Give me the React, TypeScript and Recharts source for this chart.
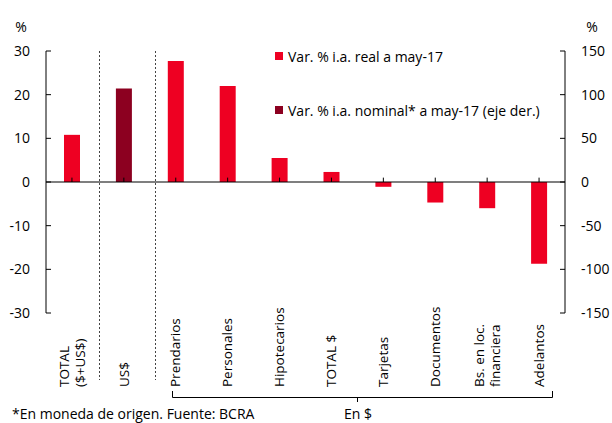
import React from "react";
import {
  ComposedChart,
  Bar,
  XAxis,
  YAxis,
  ReferenceLine,
  Legend,
} from "recharts";

const categories = [
  "TOTAL\n($+US$)",
  "US$",
  "Prendarios",
  "Personales",
  "Hipotecarios",
  "TOTAL $",
  "Tarjetas",
  "Documentos",
  "Bs. en loc.\nfinanciera",
  "Adelantos",
];
const realValues = [10.8, null, 27.7, 22.0, 5.5, 2.3, -1.1, -4.7, -6.0, -18.7];
const nominalValues = [null, 107, null, null, null, null, null, null, null, null];
const leftTicks = [-30, -20, -10, 0, 10, 20, 30];
const rightTicks = [-150, -100, -50, 0, 50, 100, 150];

const RED = "#EE0022";
const DARK_RED = "#8C0020";
const FONT = "'Open Sans', sans-serif";

const data = categories.map((name, i) => ({
  name,
  real: realValues[i],
  nominal: nominalValues[i],
}));

const CategoryTick = (props: any) => {
  const { x, payload } = props;
  const lines = String(payload.value).split("\n");
  const startY = 387;
  return (
    <text
      transform={`translate(${x},${startY}) rotate(-90)`}
      textAnchor="start"
      fontSize={13.5}
      fontFamily={FONT}
      fill="#000"
    >
      {lines.map((l, i) => (
        <tspan key={i} x={0} y={(i - (lines.length - 1) / 2) * 16 + 4.7}>
          {l}
        </tspan>
      ))}
    </text>
  );
};

const LegendBox = () => (
  <div style={{ fontFamily: FONT, fontSize: 14, color: "#000", textAlign: "left" }}>
    <div style={{ display: "flex", alignItems: "center", height: 18 }}>
      <span style={{ width: 8, height: 8, background: RED, marginRight: 5 }} />
      Var. % i.a. real a may-17
    </div>
    <div style={{ display: "flex", alignItems: "center", height: 18, marginTop: 36 }}>
      <span style={{ width: 8, height: 8, background: DARK_RED, marginRight: 5 }} />
      Var. % i.a. nominal* a may-17 (eje der.)
    </div>
  </div>
);

export default function App() {
  return (
    <div style={{ position: "absolute", left: 0, top: 0, width: 612, height: 423, background: "#fff" }}>
      <ComposedChart
        width={612}
        height={423}
        data={data}
        margin={{ top: 51, right: 0, bottom: 0, left: 0 }}
        barSize={16}
        barGap={-16}
      >
        <XAxis
          dataKey="name"
          height={110}
          axisLine={false}
          tickLine={false}
          interval={0}
          tick={<CategoryTick />}
        />
        <YAxis
          yAxisId="left"
          width={46}
          domain={[-30, 30]}
          ticks={leftTicks}
          tickSize={-5}
          tickMargin={21}
          axisLine={{ stroke: "#000" }}
          tickLine={{ stroke: "#000" }}
          tick={{ fill: "#000", fontSize: 14, fontFamily: FONT }}
        />
        <YAxis
          yAxisId="right"
          orientation="right"
          width={47}
          domain={[-150, 150]}
          ticks={rightTicks}
          tickSize={-5}
          tickMargin={21}
          axisLine={{ stroke: "#000" }}
          tickLine={{ stroke: "#000" }}
          tick={{ fill: "#000", fontSize: 14, fontFamily: FONT }}
        />
        <Legend
          layout="horizontal"
          verticalAlign="middle"
          align="center"
          content={<LegendBox />}
          wrapperStyle={{ position: "absolute", left: 275, top: 47, width: 320, height: 0 }}
        />
        <Bar yAxisId="left" dataKey="real" fill={RED} isAnimationActive={false} />
        <Bar yAxisId="right" dataKey="nominal" fill={DARK_RED} isAnimationActive={false} />
        <ReferenceLine yAxisId="left" y={0} stroke="#000" strokeWidth={1.2} />
        {categories.map((c) => (
          <ReferenceLine
            key={c}
            yAxisId="left"
            segment={[
              { x: c, y: 0 },
              { x: c, y: 1 },
            ]}
            stroke="#000"
          />
        ))}
      </ComposedChart>
      <svg
        width={612}
        height={423}
        style={{ position: "absolute", left: 0, top: 0, pointerEvents: "none" }}
        fontFamily={FONT}
      >
        <text x={21} y={32} fontSize={14} textAnchor="middle">%</text>
        <text x={592} y={32} fontSize={14} textAnchor="middle">%</text>
        <line x1={99.5} y1={51} x2={99.5} y2={380} stroke="#444" strokeDasharray="2 2" />
        <line x1={155.5} y1={51} x2={155.5} y2={380} stroke="#444" strokeDasharray="2 2" />
        <path d="M172.5,391 V397.5 H552.5 V391 M357.5,397.5 V402" fill="none" stroke="#000" />
        <text x={358} y={419} fontSize={14} textAnchor="middle">En $</text>
        <text x={12} y={419} fontSize={14}>*En moneda de origen. Fuente: BCRA</text>
      </svg>
    </div>
  );
}
